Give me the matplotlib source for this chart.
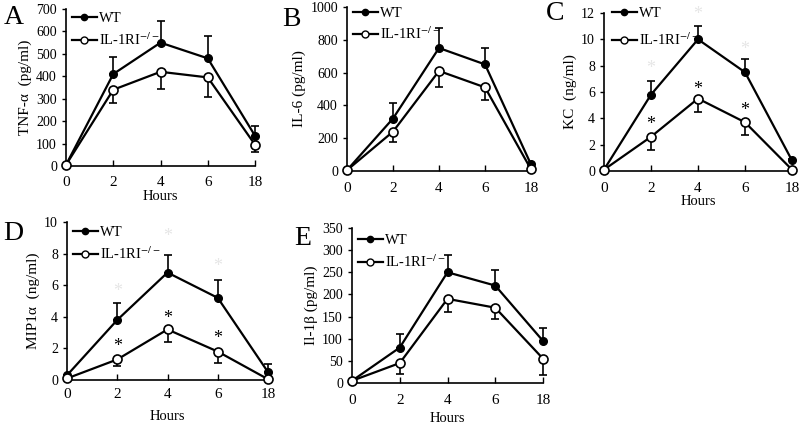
import matplotlib
matplotlib.use('Agg')
import matplotlib.pyplot as plt
from matplotlib.lines import Line2D
import numpy as np

plt.rcParams['font.family'] = ['Liberation Serif', 'DejaVu Serif']
plt.rcParams['mathtext.fontset'] = 'stix'

W, H = 800, 424

hours = ['0', '2', '4', '6', '18']

# A: TNF-a
tnf_wt = [5, 410, 550, 480, 135]
tnf_wt_err = [0, 75, 95, 98, 45]
tnf_ko = [5, 340, 420, 395, 95]
tnf_ko_err = [0, 60, 75, 87, 33]

# B: IL-6
il6_wt = [5, 320, 750, 650, 40]
il6_wt_err = [0, 95, 125, 100, 10]
il6_ko = [5, 240, 610, 510, 10]
il6_ko_err = [0, 65, 95, 75, 5]

# C: KC
kc_wt = [0.1, 5.8, 10.0, 7.5, 0.8]
kc_wt_err = [0, 1.0, 1.0, 1.0, 0.1]
kc_ko = [0.1, 2.6, 5.5, 3.7, 0.1]
kc_ko_err = [0, 1.0, 1.0, 1.0, 0]
kc_star_ko = [3.5, 6.2, 4.6]
kc_star_wt = [7.8, 11.9, 9.2]

# D: MIP1a
mip_wt = [0.3, 3.8, 6.8, 5.2, 0.5]
mip_wt_err = [0, 1.1, 1.1, 1.1, 0.5]
mip_ko = [0.1, 1.3, 3.2, 1.8, 0.05]
mip_ko_err = [0, 0.4, 0.8, 0.7, 0]
mip_star_ko = [2.1, 3.9, 2.6]
mip_star_wt = [5.6, 9.1, 7.2]

# E: IL-1b
il1b_wt = [5, 80, 250, 220, 95]
il1b_wt_err = [0, 30, 40, 35, 30]
il1b_ko = [5, 45, 190, 170, 55]
il1b_ko_err = [0, 25, 30, 25, 36]

star_x = [1, 2, 3]

fig = plt.figure(figsize=(W / 100, H / 100), dpi=100)


def px_axes(l, r, t, b):
    return fig.add_axes([l / W, 1 - b / H, (r - l) / W, (b - t) / H])


def panel(box, letter, letter_xy, wt, wt_err, ko, ko_err, ymax, ystep, ylabel,
          hours_y=None, tick_pad=8, leg_xy=(6, 6), leg_sp=0.45):
    ax = px_axes(*box)
    x = np.arange(len(hours))
    zeros = np.zeros(len(hours))
    ax.errorbar(x, wt, yerr=[zeros, wt_err], fmt='-o', color='black', lw=1.6,
                ms=5.5, mfc='black', mec='black', capsize=3, elinewidth=1.2,
                capthick=1.2, clip_on=False, zorder=3)
    ax.errorbar(x, ko, yerr=[ko_err, zeros], fmt='-o', color='black', lw=1.6,
                ms=6.5, mfc='white', mec='black', mew=1.2, capsize=3,
                elinewidth=1.2, capthick=1.2, clip_on=False, zorder=4)
    ax.set_xlim(0, 4)
    ax.set_ylim(0, ymax)
    ax.set_yticks(np.arange(0, ymax + ystep / 2, ystep))
    ax.set_xticks(x)
    ax.set_xticklabels(hours, fontsize=11)
    ax.tick_params(axis='y', labelsize=10, direction='out', length=3, width=1)
    ax.tick_params(axis='x', direction='in', length=4, width=1, pad=tick_pad)
    for s in ['top', 'right']:
        ax.spines[s].set_visible(False)
    for s in ['left', 'bottom']:
        ax.spines[s].set_linewidth(1.2)
    ax.set_ylabel(ylabel, fontsize=11, labelpad=3)
    if hours_y is not None:
        fig.text((box[0] + box[1]) / 2 / W, 1 - hours_y / H, 'Hours',
                 ha='center', va='center', fontsize=10.5)
    fig.text(letter_xy[0] / W, 1 - letter_xy[1] / H, letter, fontsize=20,
             ha='left', va='center')
    handles = [
        Line2D([], [], color='black', lw=1.6, marker='o', ms=4.5, mfc='black'),
        Line2D([], [], color='black', lw=1.6, marker='o', ms=5, mfc='white',
               mew=1.0),
    ]
    labels = ['WT', r'IL-1RI$^{-/-}$']
    bx = (box[0] + leg_xy[0]) / W
    by = 1 - (box[2] + leg_xy[1]) / H
    fig.legend(handles, labels, loc='upper left', bbox_to_anchor=(bx, by),
               frameon=False, fontsize=10.5, handlelength=1.7,
               handletextpad=0.15, labelspacing=leg_sp, borderaxespad=0,
               borderpad=0)
    return ax


axA = panel((66, 255, 9, 166), 'A', (4, 17), tnf_wt, tnf_wt_err, tnf_ko,
            tnf_ko_err, 700, 100, 'TNF-α  (pg/ml)', hours_y=197, tick_pad=7,
            leg_xy=(6, 3))
axB = panel((347, 531, 7, 171), 'B', (282, 19), il6_wt, il6_wt_err, il6_ko,
            il6_ko_err, 1000, 200, 'IL-6 (pg/ml)', tick_pad=8, leg_xy=(6, 0),
            leg_sp=0.35)
axC = panel((604, 792, 13, 171), 'C', (546, 14), kc_wt, kc_wt_err, kc_ko,
            kc_ko_err, 12, 2, 'KC  (ng/ml)', hours_y=202, tick_pad=8,
            leg_xy=(8, -6), leg_sp=0.75)
axD = panel((67, 268, 222, 380), 'D', (3, 233), mip_wt, mip_wt_err, mip_ko,
            mip_ko_err, 10, 2, 'MIP1α  (ng/ml)', hours_y=417, tick_pad=6,
            leg_xy=(6, 4))
axE = panel((352, 543, 228, 383), 'E', (294, 238), il1b_wt, il1b_wt_err,
            il1b_ko, il1b_ko_err, 350, 50, 'Il-1β (pg/ml)', hours_y=418,
            tick_pad=8)

for ax, sk, sw in [(axC, kc_star_ko, kc_star_wt), (axD, mip_star_ko, mip_star_wt)]:
    for xi, yk, yw in zip(star_x, sk, sw):
        ax.text(xi, yk, '*', ha='center', va='center', fontsize=13,
                color='black', clip_on=False)
        ax.text(xi, yw, '*', ha='center', va='center', fontsize=13,
                color='#e6e6e6', clip_on=False)

fig.savefig('out.png', dpi=100)
